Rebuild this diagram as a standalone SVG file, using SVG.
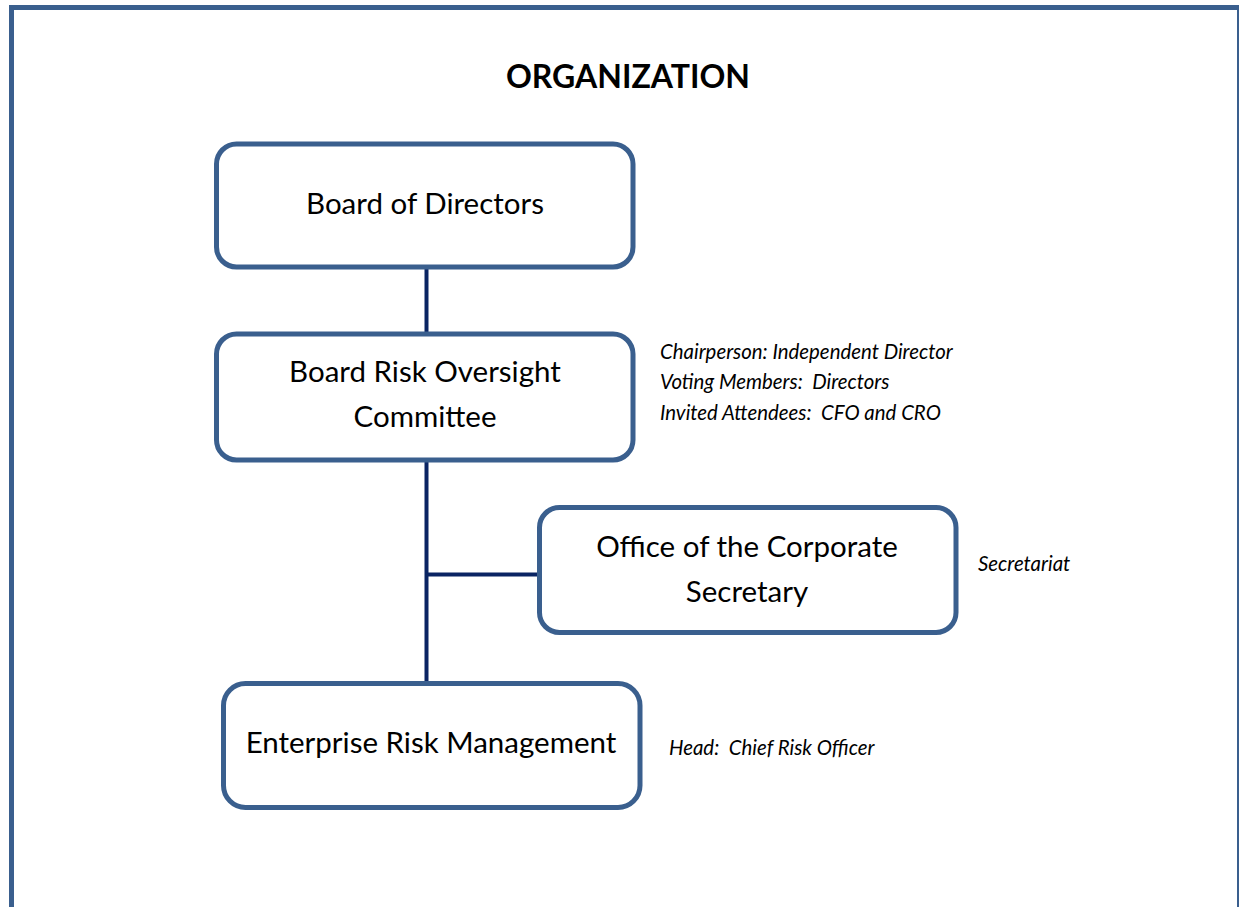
<svg xmlns="http://www.w3.org/2000/svg" width="1239" height="907" viewBox="0 0 1239 907">
  <style>
    .frame { fill: none; stroke: #3a5f8e; stroke-width: 5; }
    .box { fill: #ffffff; stroke: #3a5f8e; stroke-width: 5; }
    .link { fill: none; stroke: #0a2463; stroke-width: 4; }
    .label { font-family: Lato, "Liberation Sans", sans-serif; font-size: 29.5px; fill: #000; text-anchor: middle; }
    .note { font-family: Lato, "Liberation Sans", sans-serif; font-size: 20.4px; font-style: italic; fill: #000; }
    .title { font-family: Lato, "Liberation Sans", sans-serif; font-size: 32px; font-weight: bold; fill: #000; text-anchor: middle; }
  </style>
  <rect width="1239" height="907" fill="#ffffff"/>
  <rect class="frame" x="11.5" y="7.5" width="1228" height="1000"/>
  <text class="title" x="628" y="88">ORGANIZATION</text>

  <g id="connectors">
    <line class="link" x1="426.5" y1="267" x2="426.5" y2="334"/>
    <line class="link" x1="426.5" y1="460" x2="426.5" y2="684"/>
    <line class="link" x1="426.5" y1="574.5" x2="539" y2="574.5"/>
  </g>

  <g id="board">
    <rect class="box" x="216.5" y="144" width="416.5" height="123" rx="20"/>
    <text class="label" x="425" y="214">Board of Directors</text>
  </g>

  <g id="broc">
    <rect class="box" x="216.5" y="334" width="416.5" height="126" rx="20"/>
    <text class="label" x="425" y="382">Board Risk Oversight</text>
    <text class="label" x="425" y="427">Committee</text>
  </g>
  <g id="broc-note">
    <text class="note" x="660" y="359">Chairperson: Independent Director</text>
    <text class="note" x="660" y="389" xml:space="preserve">Voting Members:  Directors</text>
    <text class="note" x="660" y="420" xml:space="preserve">Invited Attendees:  CFO and CRO</text>
  </g>

  <g id="corpsec">
    <rect class="box" x="539.5" y="507.5" width="416.5" height="125" rx="20"/>
    <text class="label" x="747" y="557">Office of the Corporate</text>
    <text class="label" x="747" y="602">Secretary</text>
  </g>
  <g id="corpsec-note">
    <text class="note" x="978" y="571">Secretariat</text>
  </g>

  <g id="erm">
    <rect class="box" x="223.5" y="683.5" width="416.5" height="124" rx="22"/>
    <text class="label" x="431" y="753">Enterprise Risk Management</text>
  </g>
  <g id="erm-note">
    <text class="note" x="669" y="755" xml:space="preserve">Head:  Chief Risk Officer</text>
  </g>
</svg>
